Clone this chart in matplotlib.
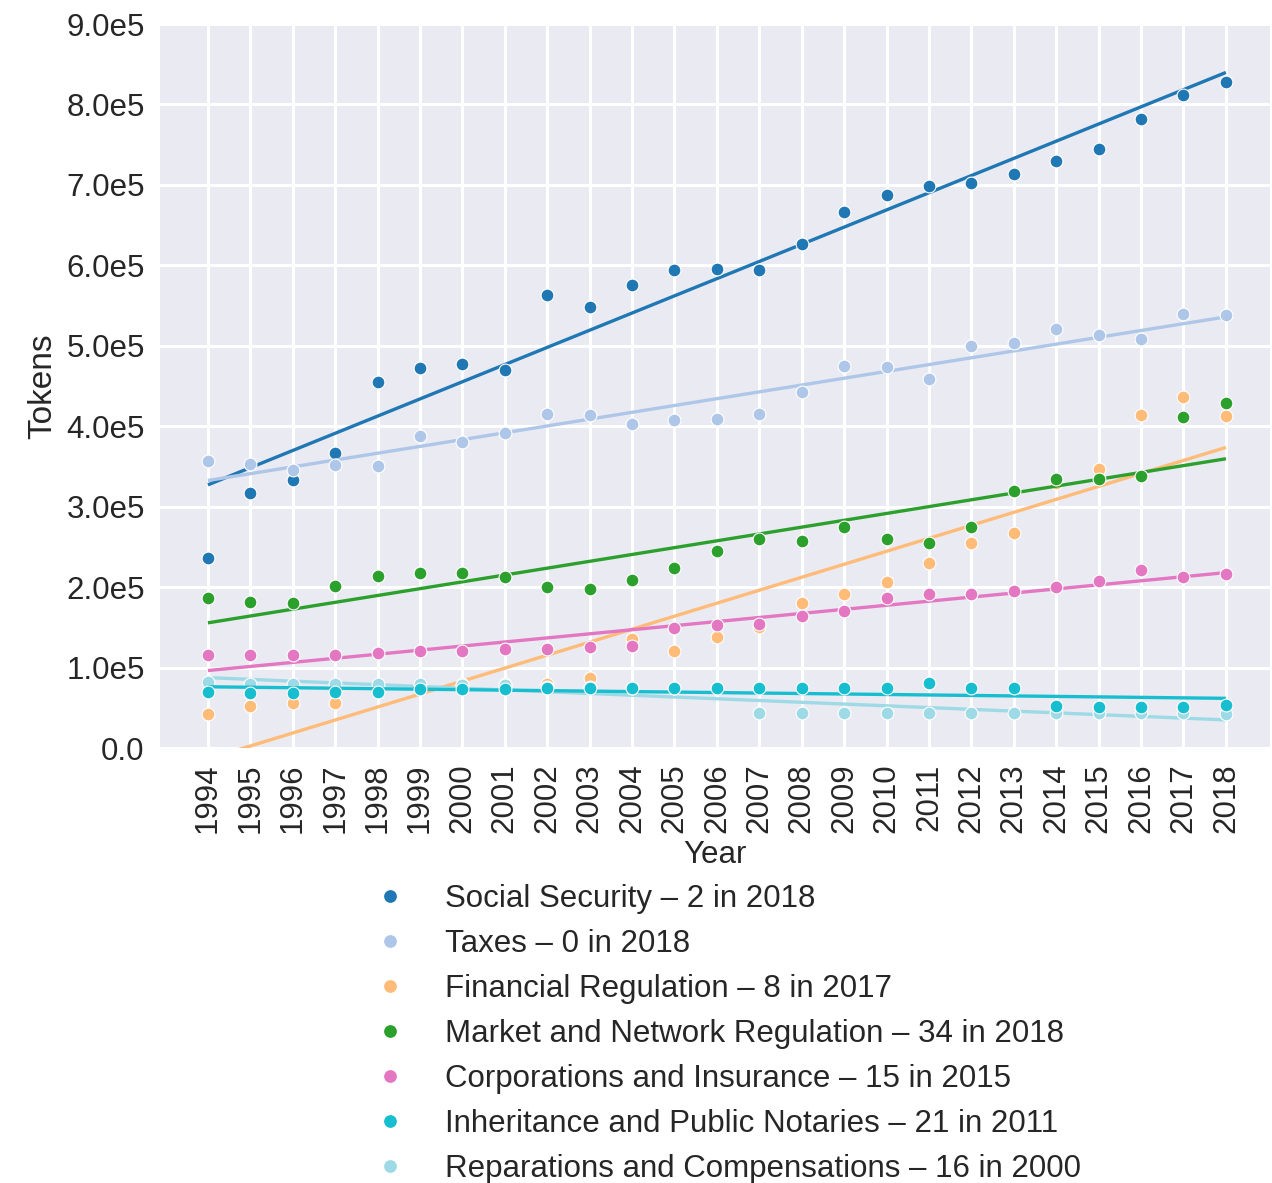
import numpy as np
import matplotlib.pyplot as plt
from matplotlib.lines import Line2D

plt.rcParams['font.family'] = ['Liberation Sans', 'DejaVu Sans']

#%% data (Tokens per year)
years = np.arange(1994, 2019)

social_security = [2.36e5, 3.17e5, 3.33e5, 3.67e5, 4.55e5, 4.72e5, 4.77e5, 4.70e5, 5.63e5, 5.48e5,
                   5.75e5, 5.94e5, 5.96e5, 5.94e5, 6.26e5, 6.66e5, 6.87e5, 6.98e5, 7.02e5, 7.14e5,
                   7.30e5, 7.44e5, 7.82e5, 8.12e5, 8.28e5]
taxes = [3.57e5, 3.53e5, 3.45e5, 3.52e5, 3.51e5, 3.88e5, 3.81e5, 3.92e5, 4.15e5, 4.14e5,
         4.03e5, 4.08e5, 4.09e5, 4.15e5, 4.43e5, 4.75e5, 4.74e5, 4.59e5, 5.00e5, 5.03e5,
         5.21e5, 5.13e5, 5.08e5, 5.39e5, 5.38e5]
financial_reg = [0.42e5, 0.52e5, 0.56e5, 0.56e5, 0.75e5, 0.78e5, 0.80e5, 0.80e5, 0.80e5, 0.87e5,
                 1.36e5, 1.20e5, 1.38e5, 1.50e5, 1.80e5, 1.92e5, 2.06e5, 2.30e5, 2.55e5, 2.67e5,
                 3.30e5, 3.47e5, 4.14e5, 4.36e5, 4.13e5]
market_reg = [1.86e5, 1.82e5, 1.80e5, 2.02e5, 2.14e5, 2.18e5, 2.18e5, 2.13e5, 2.00e5, 1.98e5,
              2.09e5, 2.24e5, 2.45e5, 2.60e5, 2.57e5, 2.75e5, 2.60e5, 2.55e5, 2.75e5, 3.20e5,
              3.35e5, 3.35e5, 3.38e5, 4.11e5, 4.29e5]
corporations = [1.15e5, 1.15e5, 1.15e5, 1.15e5, 1.18e5, 1.20e5, 1.21e5, 1.23e5, 1.23e5, 1.25e5,
                1.27e5, 1.49e5, 1.53e5, 1.54e5, 1.64e5, 1.70e5, 1.86e5, 1.92e5, 1.92e5, 1.95e5,
                2.00e5, 2.08e5, 2.21e5, 2.12e5, 2.16e5]
inheritance = [0.69e5, 0.68e5, 0.68e5, 0.69e5, 0.69e5, 0.73e5, 0.73e5, 0.73e5, 0.74e5, 0.74e5,
               0.75e5, 0.75e5, 0.75e5, 0.75e5, 0.75e5, 0.75e5, 0.74e5, 0.81e5, 0.75e5, 0.75e5,
               0.52e5, 0.51e5, 0.51e5, 0.51e5, 0.53e5]
reparations = [0.82e5, 0.80e5, 0.80e5, 0.80e5, 0.80e5, 0.79e5, 0.78e5, 0.78e5, 0.76e5, 0.76e5,
               0.75e5, 0.75e5, 0.75e5, 0.43e5, 0.44e5, 0.43e5, 0.43e5, 0.43e5, 0.43e5, 0.43e5,
               0.43e5, 0.43e5, 0.43e5, 0.43e5, 0.42e5]

series = [social_security, taxes, financial_reg, market_reg, corporations, inheritance, reparations]
labels = ['Social Security – 2 in 2018',
          'Taxes – 0 in 2018',
          'Financial Regulation – 8 in 2017',
          'Market and Network Regulation – 34 in 2018',
          'Corporations and Insurance – 15 in 2015',
          'Inheritance and Public Notaries – 21 in 2011',
          'Reparations and Compensations – 16 in 2000']
colors = ['#1f77b4', '#aec7e8', '#ffbb78', '#2ca02c', '#e377c2', '#17becf', '#9edae5']
zorders = [3, 4, 5, 6, 7, 9, 8]

yticks = np.arange(0, 9.5e5, 1e5)
ytick_labels = ['0.0', '1.0e5', '2.0e5', '3.0e5', '4.0e5', '5.0e5', '6.0e5', '7.0e5', '8.0e5', '9.0e5']

#%% plot
fs = 22.5
fig = plt.figure(figsize=(12.72, 11.83), dpi=100)
ax = fig.add_axes([160/1272, 1 - 748/1183, 1110/1272, (748 - 24)/1183])
ax.set_facecolor('#EAEAF2')
for s in ax.spines.values():
    s.set_visible(False)
ax.grid(True, color='white', lw=2.2, zorder=0)
ax.set_axisbelow(True)

handles = []
for y, c, z, lab in zip(series, colors, zorders, labels):
    y = np.asarray(y)
    m, n = np.polyfit(years, y, 1)
    ax.plot(years, m*years + n, '-', color=c, lw=2.4, zorder=z, solid_capstyle='butt')
    ax.scatter(years, y, s=85, color=c, edgecolors='white', linewidths=0.8, zorder=z + 0.5)
    handles.append(Line2D([], [], ls='none', marker='o', ms=10, color=c, mec='white', mew=0.8, label=lab))

ax.set_xlim(1992.87, 2019.04)
ax.set_ylim(0, 9e5)
ax.set_xticks(years)
ax.set_xticklabels([str(v) for v in years], rotation=90)
ax.set_yticks(yticks)
ax.set_yticklabels(ytick_labels)
ax.tick_params(length=0, labelsize=fs, colors='#262626', pad=11)
ax.set_xlabel('Year', fontsize=fs, color='#262626', labelpad=5)
ax.set_ylabel('Tokens', fontsize=24, color='#262626', labelpad=6)

fig.legend(handles=handles, loc='upper left', bbox_to_anchor=(374/1272, 1 - 884/1183),
           frameon=False, fontsize=fs, handlelength=1.0, handletextpad=1.26,
           labelspacing=0.48, borderpad=0, borderaxespad=0, labelcolor='#262626')

plt.savefig('out.png', dpi=100)
